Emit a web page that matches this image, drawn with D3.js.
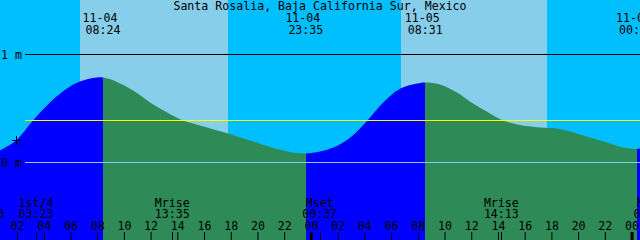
<!DOCTYPE html>
<html>
<head>
<meta charset="utf-8">
<script src="https://cdn.jsdelivr.net/npm/d3@7"></script>
<style>
body { margin: 0; background: #00bfff; }
svg { display: block; }
text { font-family: "DejaVu Sans Mono", monospace; font-size: 11.6px; fill: #000; }
</style>
</head>
<body>
<svg id="chart" width="640" height="240"></svg>
<script>
const title = "Santa Rosalia, Baja California Sur, Mexico"

// hours after 11-04 00:00 and water level in metres
const hours = [0.4, 0.69, 1.89, 3.16, 4.43, 5.70, 6.68, 8.40, 10.65, 11.92, 13.20, 14.39, 15.66, 17.76, 19.40, 21.90, 23.58,
  25.64, 26.91, 28.19, 29.38, 30.66, 31.93, 32.52, 33.62, 34.89, 36.09, 37.37, 38.34, 39.39, 41.11, 42.38, 43.58, 44.85,
  46.12, 47.32, 48.33, 48.9]
const heights = [0.09, 0.111, 0.204, 0.389, 0.556, 0.685, 0.75, 0.787, 0.667, 0.556, 0.463, 0.389, 0.343, 0.269, 0.204, 0.111, 0.083,
  0.139, 0.231, 0.389, 0.556, 0.685, 0.731, 0.741, 0.722, 0.648, 0.546, 0.454, 0.389, 0.352, 0.324, 0.315, 0.278, 0.231,
  0.185, 0.139, 0.125, 0.14]

// highs and lows
const tideHours = [8.4, 23.583, 32.517, 48.333]
const tideDates = ["11-04", "11-04", "11-05", "11-06"]
const tideTimes = ["08:24", "23:35", "08:31", "00:20"]

// daylight
const sunrise = [6.68, 30.7]
const sunset = [17.76, 41.63]

// moon events along the bottom
const moonHours = [-0.283, 3.383, 13.583, 24.617, 38.217, 49.417]
const moonNames = ["Mset", "1st/4", "Mrise", "Mset", "Mrise", "Mset"]
const moonTimes = ["23:43", "03:23", "13:35", "00:37", "14:13", "01:25"]

const hourTicks = d3.range(2, 49, 2)
const levelTicks = [0, 1]
const levelNames = ["0 m", "1 m"]
const meanLevel = 0.389
const markHour = 1.89
const markLevel = 0.204

const svg = d3.select('#chart')

const x = d3.scaleLinear()
    .domain([2, 48])
    .range([17.5, 17.5 + 46 * 13.36])
const y = d3.scaleLinear()
    .domain([0, 1])
    .range([162.5, 54.5])

// day bands
svg.selectAll('rect.day')
    .data(sunrise)
    .enter()
    .append('rect')
        .attr('class', 'day')
        .attr('x', d => Math.round(x(d)))
        .attr('width', (d, i) => Math.round(x(sunset[i])) - Math.round(x(d)))
        .attr('y', 0)
        .attr('height', 240)
        .style('fill', '#87ceeb')

// tide fill, blue while rising and green while falling
const pts = hours.map((h, i) => [h, heights[i]])
const area = d3.area()
    .x(d => x(d[0]))
    .y0(240)
    .y1(d => y(d[1]))
    .curve(d3.curveCatmullRom.alpha(0.5))

const edges = [hours[0], ...tideHours, hours[hours.length - 1]]
const defs = svg.append('defs')
for (let i = 0; i < edges.length - 1; i++) {
    const x0 = Math.round(x(edges[i]))
    const x1 = Math.round(x(edges[i + 1]))
    defs.append('clipPath')
        .attr('id', 'seg' + i)
        .append('rect')
            .attr('x', x0)
            .attr('y', 0)
            .attr('width', x1 - x0)
            .attr('height', 240)
    svg.append('path')
        .datum(pts)
        .attr('d', area)
        .attr('clip-path', 'url(#seg' + i + ')')
        .style('fill', i % 2 == 0 ? '#0000ff' : '#2e8b57')
}

// level lines
svg.selectAll('line.level')
    .data(levelTicks)
    .enter()
    .append('line')
        .attr('x1', 25)
        .attr('x2', 640)
        .attr('y1', d => y(d))
        .attr('y2', d => y(d))
        .style('stroke', d => d == 0 ? '#87ceeb' : '#000')
svg.selectAll('text.level')
    .data(levelTicks)
    .enter()
    .append('text')
        .attr('x', 1)
        .attr('y', d => y(d) + 4)
        .text((d, i) => levelNames[i])

svg.append('line')
    .attr('x1', 25)
    .attr('x2', 640)
    .attr('y1', y(meanLevel))
    .attr('y2', y(meanLevel))
    .style('stroke', '#ffff00')

// the little cross on the curve
const mx = Math.round(x(markHour)) + 0.5
const my = Math.round(y(markLevel)) + 0.5
svg.append('path')
    .attr('d', `M${mx - 4.5},${my}H${mx + 4.5}M${mx},${my - 4.5}V${my + 4.5}`)
    .style('stroke', '#000')

// title and tide labels
svg.append('text')
    .attr('x', 320)
    .attr('y', 10)
    .attr('text-anchor', 'middle')
    .text(title)

svg.selectAll('text.tdate')
    .data(tideHours)
    .enter()
    .append('text')
        .attr('x', d => x(d) - 3)
        .attr('y', 22)
        .attr('text-anchor', 'middle')
        .text((d, i) => tideDates[i])
svg.selectAll('text.ttime')
    .data(tideHours)
    .enter()
    .append('text')
        .attr('x', d => x(d))
        .attr('y', 34)
        .attr('text-anchor', 'middle')
        .text((d, i) => tideTimes[i])

// moon labels
svg.selectAll('text.mname')
    .data(moonHours)
    .enter()
    .append('text')
        .attr('x', d => x(d))
        .attr('y', 206.5)
        .attr('text-anchor', 'middle')
        .text((d, i) => moonNames[i])
svg.selectAll('text.mtime')
    .data(moonHours)
    .enter()
    .append('text')
        .attr('x', d => x(d))
        .attr('y', 218)
        .attr('text-anchor', 'middle')
        .text((d, i) => moonTimes[i])
svg.selectAll('line.mtick')
    .data(moonHours)
    .enter()
    .append('line')
        .attr('x1', d => Math.round(x(d)) + 0.5)
        .attr('x2', d => Math.round(x(d)) + 0.5)
        .attr('y1', 232)
        .attr('y2', 240)
        .style('stroke', '#000')

// hour axis
const xaxis = d3.axisTop(x)
    .tickValues(hourTicks)
    .tickSize(8)
    .tickPadding(2)
    .offset(0)
    .tickFormat(h => String(h % 24).padStart(2, '0'))
const gx = svg.append('g')
    .attr('transform', 'translate(0, 240)')
    .attr('font-size', null)
    .attr('font-family', null)
    .call(xaxis)
gx.select('.domain').remove()
gx.selectAll('.tick line')
    .attr('stroke', '#000')
    .attr('stroke-width', d => d % 24 == 0 ? 3 : 1)
</script>
</body>
</html>
